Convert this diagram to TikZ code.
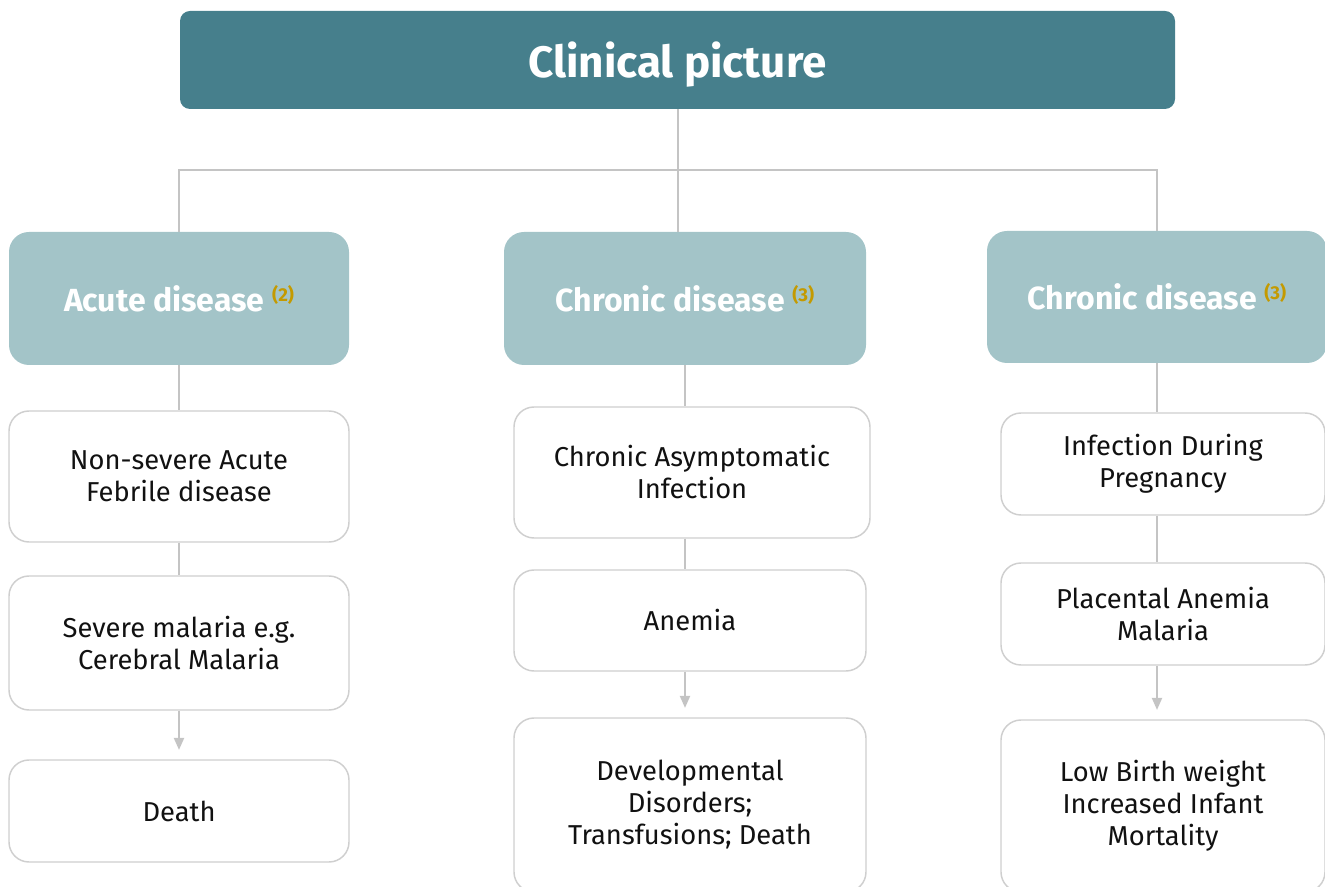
\documentclass[tikz,border=0pt]{standalone}
\usepackage{fontspec}
\setmainfont{Fira Sans}
\usetikzlibrary{arrows.meta,calc}
\definecolor{titlecol}{HTML}{467F8C}
\definecolor{hdrcol}{HTML}{A3C4C8}
\definecolor{supcol}{HTML}{C49A00}
\definecolor{linecol}{HTML}{C4C4C4}
\definecolor{boxline}{HTML}{CFCFCF}
\definecolor{txtcol}{HTML}{111111}
\tikzset{
  titlebox/.style={fill=titlecol, draw=none, rounded corners=7.5pt, text=white,
    font=\fontsize{33}{38}\selectfont\bfseries, align=center, inner sep=0pt,
    text height=30pt, text depth=4pt},
  hdrbox/.style={fill=hdrcol, draw=none, rounded corners=15pt, text=white,
    font=\fontsize{24}{28}\selectfont\bfseries, align=center, inner sep=0pt},
  itembox/.style={fill=white, draw=boxline, line width=1.1pt, rounded corners=15pt, text=txtcol,
    font=\fontsize{20.5}{24}\selectfont, align=center, inner sep=0pt},
  conn/.style={draw=linecol, line width=1.5pt},
  arr/.style={conn, -{Triangle[length=9pt,width=7.5pt]}, shorten >=7pt},
}
\newcommand{\supref}[1]{\raisebox{0.6ex}{\textcolor{supcol}{\fontsize{14}{16}\selectfont\bfseries(#1)}}}
\begin{document}
\begin{tikzpicture}[x=0.75pt,y=-0.75pt]
\useasboundingbox (0,0) rectangle (1325,887);
% title
\node[titlebox, minimum width=746.25pt, minimum height=73.5pt] (title) at (677.5,60) {Clinical picture};
% headers
\node[hdrbox, minimum width=255pt, minimum height=99.75pt] (acute) at (179,298.5) {Acute disease \supref{2}};
\node[hdrbox, minimum width=271.5pt, minimum height=99.75pt] (chrM) at (685,298.5) {Chronic disease \supref{3}};
\node[hdrbox, minimum width=255pt, minimum height=99pt] (chrR) at (1157,297) {Chronic disease \supref{3}};
% left column
\node[itembox, minimum width=255pt, minimum height=98.25pt] (l1) at (179,476.5) {Non-severe Acute\\Febrile disease};
\node[itembox, minimum width=255pt, minimum height=100.5pt] (l2) at (179,643) {Severe malaria e.g.\\Cerebral Malaria};
\node[itembox, minimum width=255pt, minimum height=76.5pt] (l3) at (179,811) {Death};
% middle column
\node[itembox, minimum width=267pt, minimum height=98.25pt] (m1) at (692,472.5) {Chronic Asymptomatic\\Infection};
\node[itembox, minimum width=264pt, minimum height=75.75pt] (m2) at (690,620.5) {Anemia};
\node[itembox, minimum width=264pt, minimum height=130.5pt] (m3) at (690,805) {Developmental\\Disorders;\\Transfusions; Death};
% right column
\node[itembox, minimum width=243pt, minimum height=76.5pt] (r1) at (1163,464) {Infection During\\Pregnancy};
\node[itembox, minimum width=243pt, minimum height=76.5pt] (r2) at (1163,614) {Placental Anemia\\Malaria};
\node[itembox, minimum width=243pt, minimum height=129pt] (r3) at (1163,806) {Low Birth weight\\Increased Infant\\Mortality};
% tree connectors
\coordinate (bus) at (678,170);
\draw[conn] (title.south) -- (title.south |- chrM.north);
\draw[conn] (acute.north) |- (chrR.north |- bus) -- (chrR.north);
% left
\draw[conn] (acute.south) -- (acute.south |- l1.north);
\draw[conn] (l1.south) -- (l1.south |- l2.north);
\draw[arr] (l2.south) -- (l2.south |- l3.north);
% middle
\draw[conn] (chrM.south) -- (chrM.south |- m1.north);
\draw[conn] (chrM.south |- m1.south) -- (chrM.south |- m2.north);
\draw[arr] (chrM.south |- m2.south) -- (chrM.south |- m3.north);
% right
\draw[conn] (chrR.south) -- (chrR.south |- r1.north);
\draw[conn] (chrR.south |- r1.south) -- (chrR.south |- r2.north);
\draw[arr] (chrR.south |- r2.south) -- (chrR.south |- r3.north);
\end{tikzpicture}
\end{document}
